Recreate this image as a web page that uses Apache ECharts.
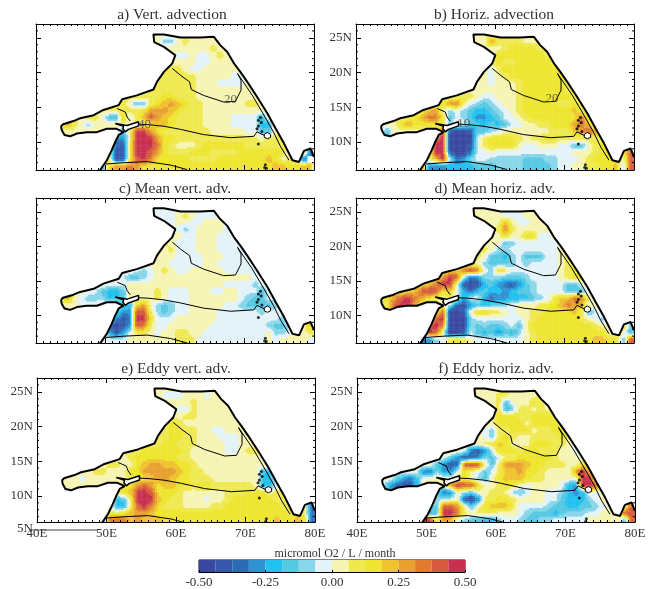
<!DOCTYPE html>
<html><head><meta charset="utf-8">
<style>html,body{margin:0;padding:0;background:#fff}#c{width:654px;height:589px}</style>
<script src="https://cdn.jsdelivr.net/npm/echarts@6/dist/echarts.min.js"></script>
</head><body><div id="c"></div>
<script>
// 16 colour classes (hex digit 0..f) between -0.50 and 0.50 micromol O2/L/month
const palette = ['#3a47a0','#3657ab','#2a6db5','#2f92d2','#20c0f0','#55c8e2','#88d6ea','#e3f3f8','#f6f4b2','#efe950','#eee52e','#efc22e','#e8a030','#e07b30','#d65a3e','#c8304f'];
const colorbarTicks = [-0.5,-0.25,0,0.25,0.5];
const titles = ['a) Vert. advection','b) Horiz. advection','c) Mean vert. adv.','d) Mean horiz. adv.','e) Eddy vert. adv.','f) Eddy horiz. adv.'];
// lower-edge latitude of each row, and first longitude stored in that row
const rowLats  = [25,24,23,22,21,20,19,18,17,16,15,14,13,12,11,10,9,8,7,6];
const rowStart = [56,56,57,58,58,57,56,56,54,51,50,48,46,42,42,50,50,49,49,48];
const vertAdv = ["88888888888","886689888888","888888889888","887787789888","888887788888","99998778888888","9999999888887788","9999999888777788","9999999998888888888","9999999aa99988888888888","9998559abcba9988888899888","8899999acccba99988888888888","899854b79becba9999888877774888","88c98688888899abba9999888877774488","888888888858ffca9999999888887755888","8338fffcaa99999999999989999","9219fffda98889aaaaaa99999999","99119ffeca999aaa9999aaaaaaa68a2","99119efdaaaaa9999aaaaaaaba8982","44accdcaaaaaaaaaaaaaaaaaaabbaabb3"];
const horizAdv = ["88888888888","888c99998888","88889aaaa988","88aaaaaaa988","99a99aaaaa98","8879aaaaaaaa98","998789aaaaaaaa98","88878889aaaaaa98","8888888889aaaaaa988","8899998778889aaaaaaa988","89acd976567889aaaaa99a988","89bc867654456789aaaaaaab988","89abdda576533457789aaaaaaad988","8888acaaaa9687554545778899aaacdb88","8858888888e100155678888888999bcec88","8df000079aaaa9899aa99999998","aff000179aaaa877888775589a98","88ff1002778777777777778889aa89e","99bf723677666665556677789aaaa8e","cc3334444555666655556778899aab6e"];
const meanVert = ["77777777777","777789877777","777887788877","887678888777","888778887777","89877788877778","8889777888777788","8888777788877778","8888877777887777778","88876789877888887777778","8875567888888888888887778","88777888888888888887777678","877544588889877788877887775788","88c8766644588889877788888887655778","888877788854ac865677888887765555678","8533ee965677888877777767778","8312ffa777888888777777777678","82013ed97788888877777777655788b","9413799878899887777777778667889","57777888888899977777777778788887"];
const meanHoriz = ["88888777888","888887778888","8888b8778888","889d98888888","888a88aa7788","88885677777789","8898667777777898","8985546755577899","9888655567677778998","9aaadfd76a9777777789aa8","9acfe7236665556777789aa88","9abdff810145321356777755798","9abefeab7424544345567777555788","89acefdca989837742334445679bbdd878","889effc98887213545567888" + "99abdcb" + "8878","88e0018ab99878899aaaab95788","8ef0006777777789aaaaaa987688","8efd000656556758aaaaaaaaa9878a5","9fe80017545354689aaaaaaaaaa8985","123679a98777777789aaaaaaaabbaa5e"];
const eddyVert = ["88888888888","887778887888","888889888888","887798888888","888998888888","89a98888888888","999aa99887788888","999aa99888777888","9999aa9998888778888","9999aaaaaa9888887789988","8889aaaaaa998888888888888","889988abccbbaa9888888888888","8899888aacccccba99888888885488","888878888889aabccbaa99988888884488","88888888889acecabbaa9aa999999844788","89abffeaaa9888888999aaa8998","9459fffba998887889aaaaaa9998","88449efda999888899aaaaaaaa99892","899abccbaaaaaaaaaaaaaaaaaaa9a92","85dddbcbbbaaaaaaaaaaaaaaaabaaba2"];
const eddyHoriz = ["88888888888","888899888899","88895888a988","889469989888","89aaa99aaa98","898aaaa8aaaa98","887699aaa899aa88","88769a9889999a87","888899ba888aaa99877","899872137aaa9aa99988778","8875312365799aaaaa9888778","8885312efe859cccbaa99988a88","888326337a87579bbcaa98888cfb88","8886424788889a8658abbba9988887ff88","88421148888cfeea889a9878888743ffe88","862386588998657887764348788","8667810399aa9888877544467888","865eec858abbb97777655445567888e","845ffd98999888765554566677888ee","8ff9cb7655446776556677777888885e"];
const panelLevels = [vertAdv,horizAdv,meanVert,meanHoriz,eddyVert,eddyHoriz];

// coastline and contour lines, [lon, lat]
const coastNorth = [[43.6,12.26],[43.9,12.55],[45.4,13],[46.35,13.4],[48.3,13.85],[49.7,14.6],[51.9,15.3],[52.4,16.15],[54.5,16.7],[56.9,17.55],[57.4,18.65],[58.4,20.1],[59.6,21.3],[60.05,22.5],[58.4,23.7],[57,24.4],[56.9,25.5],[58.4,25.5],[60.8,25.05],[63.65,25.05],[65.6,25.15],[66.5,23.95],[67.5,23],[68.5,21.3],[69.4,20.1],[70.4,18.65],[71.8,16.5],[73.3,14.1],[74.5,11.9],[75.7,9.75],[76.9,7.35],[77.85,7.1],[78.55,8.7],[79.5,9.05],[80,7.85]];
const coastSouth = [[43.6,12.26],[43.7,11.7],[44.1,11],[44.9,10.8],[45.9,11.2],[47.3,11.4],[48.75,11.4],[50.2,11.9],[51.5,11.9],[52.6,11.4],[51.9,11],[51.4,10],[50.9,8.8],[50.2,7.35],[49.2,5.9]];
const socotra = [[51.4,12.65],[53.1,12.35],[54.75,12.9],[54.75,12.3],[53.3,11.8],[52.85,11.45],[52.5,11.9],[52.6,12.25],[51.4,12.65]];
const contourNorth = [[59.6,20.6],[60.8,19.6],[62.1,18.65],[62.35,17.55],[64.1,16.7],[67,15.75],[68.7,15.85],[69.5,17.45],[69.5,18.9],[69,19.85],[71.1,16.75],[72.8,13.85],[74.15,11.45],[75.2,9.3],[76.4,7.35]];
const contourMiddle = [[54.75,12.55],[56,12.5],[58.4,12.25],[60.8,11.8],[64.1,11.05],[68,10.6],[71.35,10.8],[71.8,11.45],[72.8,10.95]];
const contourSouth = [[50,6.8],[52.8,7],[56,7.15],[59.35,6.65],[61.75,6]];
const contourGulf = [[51.7,14.8],[52.85,14.3],[53.1,13.6],[53.55,13]];
const lagoon = [[73.3,11.35],[73.75,11.1],[73.75,10.65],[73.3,10.45],[72.85,10.65],[72.85,11.1],[73.3,11.35]];
const islands = [[72.3,13.5],[72,13.1],[72.4,12.8],[72,12.3],[71.8,11.9],[72.5,11.5],[72,9.7],[73,6.7],[72.9,6.3],[73.15,6.2]];
const contourLabels = [[[68,16.15,'20'],[55.6,12.5,'40']],[[68.2,16.3,'20'],[55.5,12.7,'10']],[],[],[],[]];

const yMajor = [10,15,20,25];
const yMinor = [7,8,9,11,12,13,14,16,17,18,19,21,22,23,24,26];
const xEdge = [40,80];
const FONT = '"Liberation Serif",serif', INK = '#333';
const SUB = 4; // each cell is painted as SUB x SUB contour-shaded tiles

// layout of panels in pixels
const rects = [
 {l:36,  t:24,  w:278,h:146,yMin:5.94,tx:167,ty:2},
 {l:356, t:24,  w:278,h:146,yMin:5.94,yLab:1,tx:489,ty:2},
 {l:36,  t:198, w:278,h:145,yMin:6,tx:170,ty:176},
 {l:356, t:198, w:278,h:145,yMin:6,yLab:1,tx:490,ty:176},
 {l:37,  t:378, w:278,h:144,yMin:6.23,yLab:1,xLab:1,bottomLab:1,tx:171,ty:356},
 {l:357, t:378, w:278,h:144,yMin:6.23,yLab:1,xLab:1,tx:491,ty:356}
];
const grid=[],xAxis=[],yAxis=[],series=[],title=[];
const line={color:'#000',width:1};
const classOf=v=>Math.max(0,Math.min(15,Math.floor((v+0.5)*16)));
rects.forEach((r,i)=>{
  grid.push({left:r.l,top:r.t,width:r.w,height:r.h,containLabel:false});
  title.push({text:titles[i],left:r.tx,top:r.ty,textAlign:'center',textStyle:{fontFamily:FONT,fontSize:15.5,fontWeight:'normal',color:INK}});
  ['bottom','top'].forEach((pos,k)=>xAxis.push({type:'value',gridIndex:i,position:pos,z:10,min:xEdge[0],max:xEdge[1],interval:10,
    axisLine:{show:true,onZero:false,lineStyle:line},splitLine:{show:false},
    axisTick:{show:true,inside:true,length:5,lineStyle:line},
    minorTick:{show:true,splitNumber:10,length:2,lineStyle:{color:'#000',width:1}},
    axisLabel:{show:!!r.xLab&&k===0,margin:5,formatter:v=>v+'E',fontFamily:FONT,fontSize:13,color:INK,hideOverlap:false}}));
  ['left','right'].forEach((pos,k)=>{
    const labVals = r.bottomLab ? [r.yMin].concat(yMajor) : yMajor;
    yAxis.push({type:'value',gridIndex:i,position:pos,z:10,min:r.yMin,max:27,
      axisLine:{show:true,onZero:false,lineStyle:line},splitLine:{show:false},
      axisTick:{show:true,inside:true,length:5,lineStyle:line,customValues:yMajor},
      axisLabel:{show:!!r.yLab&&k===0,margin:4,customValues:labVals,formatter:v=>v<7?'5N':v+'N',fontFamily:FONT,fontSize:13,color:INK,showMinLabel:true,showMaxLabel:true,verticalAlignMinLabel:r.bottomLab?'top':'middle'}});
  });
  const xi=i*2, yi=i*2;
  const cells=[]; const lookup=new Map();
  panelLevels[i].forEach((row,n)=>{
    for(let k=0;k<row.length;k++){
      const v=-0.5+(parseInt(row[k],16)+0.5)/16;
      cells.push([rowStart[n]+k,rowLats[n],v]);
      lookup.set((rowStart[n]+k)+','+rowLats[n],v);
    }
  });
  // contour-style shading inside a cell, from the four nearest cell values
  const shade=(x,y)=>{
    const fx=x-0.5,fy=y-0.5,x0=Math.floor(fx),y0=Math.floor(fy),tx=fx-x0,ty=fy-y0;
    let s=0,w=0;
    [[0,0,(1-tx)*(1-ty)],[1,0,tx*(1-ty)],[0,1,(1-tx)*ty],[1,1,tx*ty]].forEach(q=>{
      const val=lookup.get((x0+q[0])+','+(y0+q[1]));
      if(val!==undefined){s+=val*q[2];w+=q[2];}
    });
    return s/w;
  };
  series.push({type:'custom',xAxisIndex:xi,yAxisIndex:yi,clip:true,z:1,silent:true,animation:false,data:cells,
    encode:{x:0,y:1},
    renderItem:(p,api)=>{
      const lon=api.value(0),lat=api.value(1);
      const a=api.coord([lon,lat+1]),b=api.coord([lon+1,lat]);
      const dx=(b[0]-a[0])/SUB,dy=(b[1]-a[1])/SUB,children=[];
      for(let m=0;m<SUB;m++)for(let n=0;n<SUB;n++){
        children.push({type:'rect',shape:{x:a[0]+m*dx,y:a[1]+n*dy,width:dx+0.4,height:dy+0.4},
          style:{fill:palette[classOf(shade(lon+(m+0.5)/SUB,lat+1-(n+0.5)/SUB))]}});
      }
      return {type:'group',children};
    }});
  // land mask
  const landN=[[39,12.26]].concat(coastNorth,[[81,7.85],[81,28],[39,28]]);
  const landS=[[39,12.26]].concat(coastSouth,[[49,5],[39,5]]);
  const polys=[landN,landS,socotra,lagoon];
  series.push({type:'custom',xAxisIndex:xi,yAxisIndex:yi,clip:true,z:2,silent:true,animation:false,data:polys.map(p=>p[0]),
    renderItem:(p,api)=>({type:'polygon',shape:{points:polys[p.dataIndex].map(q=>api.coord(q))},style:{fill:'#fff'}})});
  const addLine=(d,w)=>series.push({type:'line',xAxisIndex:xi,yAxisIndex:yi,data:d,showSymbol:false,symbol:'none',silent:true,animation:false,z:3,lineStyle:{color:'#000',width:w}});
  addLine(coastNorth,2); addLine(coastSouth,2); addLine(socotra,1.5); addLine(lagoon,1);
  addLine(contourNorth,1); addLine(contourMiddle,1); addLine(contourSouth,1); addLine(contourGulf,1);
  series.push({type:'scatter',xAxisIndex:xi,yAxisIndex:yi,data:islands,symbolSize:3,itemStyle:{color:'#000'},silent:true,animation:false,z:4});
  if(contourLabels[i].length) series.push({type:'scatter',xAxisIndex:xi,yAxisIndex:yi,data:contourLabels[i],symbolSize:0,silent:true,animation:false,z:5,
    label:{show:true,position:'inside',formatter:p=>p.value[2],fontFamily:FONT,fontSize:13,color:'#444'}});
  // one-degree minor ticks on both sides of the latitude axis
  const minor=[]; yMinor.forEach(v=>{minor.push([xEdge[0],v,1]);minor.push([xEdge[1],v,-1]);});
  series.push({type:'custom',xAxisIndex:xi,yAxisIndex:yi,clip:false,z:6,silent:true,animation:false,data:minor,encode:{x:0,y:1},
    renderItem:(p,api)=>{const c=api.coord([api.value(0),api.value(1)]);
      return {type:'line',shape:{x1:c[0],y1:c[1],x2:c[0]+2*api.value(2),y2:c[1]},style:{stroke:'#000',lineWidth:1}};}});
});
// colour bar
const bi=rects.length;
grid.push({left:199,top:560,width:266,height:12,show:true,borderColor:'#000',borderWidth:1,backgroundColor:'transparent'});
xAxis.push({type:'value',gridIndex:bi,min:-0.5,max:0.5,interval:0.25,position:'bottom',z:10,axisLine:{show:true,onZero:false,lineStyle:line},splitLine:{show:false},
  axisTick:{show:true,inside:true,length:2,customValues:colorbarTicks,lineStyle:line},
  axisLabel:{show:true,margin:4,customValues:colorbarTicks,formatter:v=>v.toFixed(2),fontFamily:FONT,fontSize:13,color:INK,showMinLabel:true,showMaxLabel:true}});
yAxis.push({type:'value',gridIndex:bi,min:0,max:1,show:false});
series.push({type:'custom',xAxisIndex:xAxis.length-1,yAxisIndex:yAxis.length-1,clip:true,silent:true,animation:false,z:1,
  data:palette.map((c,k)=>[-0.5+k/16,0,k]),encode:{x:0,y:1},
  renderItem:(p,api)=>{const k=api.value(2);const a=api.coord([-0.5+k/16,1]),b=api.coord([-0.5+(k+1)/16,0]);
    return {type:'rect',shape:{x:a[0],y:a[1],width:b[0]-a[0],height:b[1]-a[1]},style:{fill:palette[k]}};}});
title.push({text:'micromol O2 / L / month',left:330,top:543,textAlign:'center',textStyle:{fontFamily:FONT,fontSize:12,fontWeight:'normal',color:INK}});

const chart=echarts.init(document.getElementById('c'),null,{renderer:'canvas'});
chart.setOption({animation:false,backgroundColor:'#fff',title,grid,xAxis,yAxis,series,
  graphic:[{type:'line',shape:{x1:30,y1:530,x2:98,y2:530},style:{stroke:'#444',lineWidth:1},z:20,silent:true}]});
</script>
</body></html>
